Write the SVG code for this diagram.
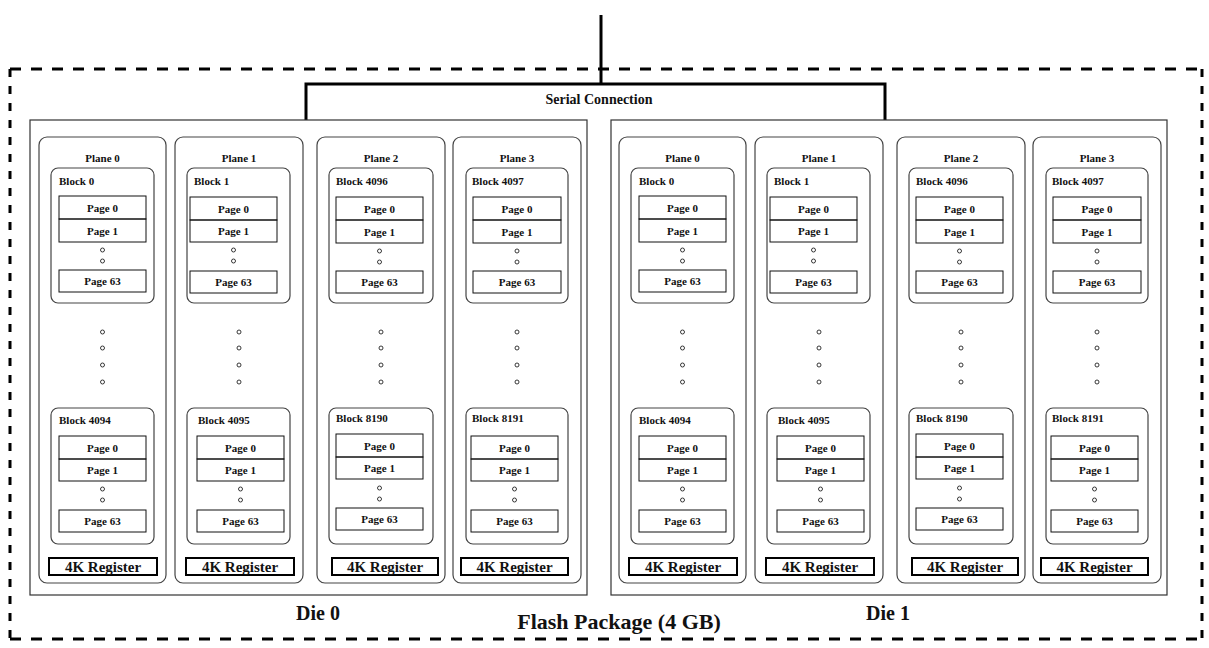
<svg xmlns="http://www.w3.org/2000/svg" width="1209" height="648" viewBox="0 0 1209 648">
<style>
.bg{fill:#fff}
.die{fill:none;stroke:#333;stroke-width:1.2}
.plane{fill:none;stroke:#444;stroke-width:1.2}
.block{fill:none;stroke:#444;stroke-width:1.2}
.page{fill:none;stroke:#111;stroke-width:1}
.reg{fill:none;stroke:#000;stroke-width:2}
.dot{fill:none;stroke:#222;stroke-width:0.9}
.conn{fill:none;stroke:#000;stroke-width:3}
.dash{fill:none;stroke:#000;stroke-width:3}
text{font-family:"Liberation Serif","Times New Roman",serif;font-weight:bold;fill:#111}
.l{font-size:11px}
.c{text-anchor:middle}
.rt{font-size:15px;text-anchor:middle}
.st{font-size:14px;text-anchor:middle}
.dt{font-size:20px;text-anchor:middle}
.ft{font-size:22px;text-anchor:middle}
</style>
<rect class="bg" x="0" y="0" width="1209" height="648"/>

<g id="package-border">
<line class="dash" x1="10" y1="69" x2="1202" y2="69" stroke-dasharray="11 10"/>
<line class="dash" x1="10" y1="639" x2="1202" y2="639" stroke-dasharray="11 10"/>
<line class="dash" x1="10" y1="69" x2="10" y2="639" stroke-dasharray="8 9"/>
<line class="dash" x1="1202" y1="69" x2="1202" y2="639" stroke-dasharray="8 9"/>
</g>

<g id="connectors">
<line class="conn" x1="601" y1="15" x2="601" y2="84"/>
<path class="conn" d="M306,120 V84 H885 V120"/>
</g>
<text id="serial-label" class="st" x="599" y="104">Serial Connection</text>

<g id="die0">
<rect class="die" x="30" y="120" width="557" height="475"/>

<g id="d0-plane0">
<rect class="plane" x="39" y="137" width="127" height="446" rx="8"/>
<text class="l c" x="102.5" y="162">Plane 0</text>
<g id="d0-block0">
<rect class="block" x="51" y="168" width="103" height="135" rx="7"/>
<text class="l" x="59" y="185">Block 0</text>
<rect class="page" x="59" y="196" width="87" height="23"/><text class="l c" x="102.5" y="212">Page 0</text>
<rect class="page" x="59" y="219" width="87" height="23"/><text class="l c" x="102.5" y="235">Page 1</text>
<circle class="dot" cx="102.5" cy="250" r="2"/><circle class="dot" cx="102.5" cy="261" r="2"/>
<rect class="page" x="59" y="270" width="87" height="22"/><text class="l c" x="102.5" y="285">Page 63</text>
</g>
<circle class="dot" cx="102.5" cy="332" r="2"/><circle class="dot" cx="102.5" cy="348" r="2"/><circle class="dot" cx="102.5" cy="365" r="2"/><circle class="dot" cx="102.5" cy="382" r="2"/>
<g id="d0-block4094">
<rect class="block" x="51" y="408" width="103" height="136" rx="7"/>
<text class="l" x="59" y="424">Block 4094</text>
<rect class="page" x="59" y="436" width="87" height="23"/><text class="l c" x="102.5" y="452">Page 0</text>
<rect class="page" x="59" y="459" width="87" height="22"/><text class="l c" x="102.5" y="474">Page 1</text>
<circle class="dot" cx="102.5" cy="489" r="2"/><circle class="dot" cx="102.5" cy="500" r="2"/>
<rect class="page" x="59" y="510" width="87" height="22"/><text class="l c" x="102.5" y="525">Page 63</text>
</g>
<g id="d0-reg0"><rect class="reg" x="49" y="558" width="108" height="17"/><text class="rt" x="103" y="572">4K Register</text></g>
</g>

<g id="d0-plane1">
<rect class="plane" x="175" y="137" width="128" height="446" rx="8"/>
<text class="l c" x="239" y="162">Plane 1</text>
<g id="d0-block1">
<rect class="block" x="187" y="168" width="103" height="135" rx="7"/>
<text class="l" x="194" y="185">Block 1</text>
<rect class="page" x="190" y="197" width="87" height="23"/><text class="l c" x="233.5" y="213">Page 0</text>
<rect class="page" x="190" y="220" width="87" height="22"/><text class="l c" x="233.5" y="235">Page 1</text>
<circle class="dot" cx="233.5" cy="250" r="2"/><circle class="dot" cx="233.5" cy="261" r="2"/>
<rect class="page" x="190" y="271" width="87" height="22"/><text class="l c" x="233.5" y="286">Page 63</text>
</g>
<circle class="dot" cx="239" cy="332" r="2"/><circle class="dot" cx="239" cy="348" r="2"/><circle class="dot" cx="239" cy="365" r="2"/><circle class="dot" cx="239" cy="382" r="2"/>
<g id="d0-block4095">
<rect class="block" x="187" y="408" width="103" height="136" rx="7"/>
<text class="l" x="198" y="424">Block 4095</text>
<rect class="page" x="197" y="436" width="87" height="23"/><text class="l c" x="240.5" y="452">Page 0</text>
<rect class="page" x="197" y="459" width="87" height="22"/><text class="l c" x="240.5" y="474">Page 1</text>
<circle class="dot" cx="240.5" cy="489" r="2"/><circle class="dot" cx="240.5" cy="500" r="2"/>
<rect class="page" x="197" y="510" width="87" height="22"/><text class="l c" x="240.5" y="525">Page 63</text>
</g>
<g id="d0-reg1"><rect class="reg" x="186" y="558" width="108" height="17"/><text class="rt" x="240" y="572">4K Register</text></g>
</g>

<g id="d0-plane2">
<rect class="plane" x="317" y="137" width="128" height="446" rx="8"/>
<text class="l c" x="381" y="162">Plane 2</text>
<g id="d0-block4096">
<rect class="block" x="329" y="168" width="104" height="135" rx="7"/>
<text class="l" x="336" y="185">Block 4096</text>
<rect class="page" x="336" y="197" width="87" height="23"/><text class="l c" x="379.5" y="213">Page 0</text>
<rect class="page" x="336" y="220" width="87" height="23"/><text class="l c" x="379.5" y="236">Page 1</text>
<circle class="dot" cx="379.5" cy="251" r="2"/><circle class="dot" cx="379.5" cy="262" r="2"/>
<rect class="page" x="336" y="271" width="87" height="22"/><text class="l c" x="379.5" y="286">Page 63</text>
</g>
<circle class="dot" cx="381" cy="332" r="2"/><circle class="dot" cx="381" cy="348" r="2"/><circle class="dot" cx="381" cy="365" r="2"/><circle class="dot" cx="381" cy="382" r="2"/>
<g id="d0-block8190">
<rect class="block" x="329" y="408" width="104" height="136" rx="7"/>
<text class="l" x="336" y="422">Block 8190</text>
<rect class="page" x="336" y="434" width="87" height="23"/><text class="l c" x="379.5" y="450">Page 0</text>
<rect class="page" x="336" y="457" width="87" height="22"/><text class="l c" x="379.5" y="472">Page 1</text>
<circle class="dot" cx="379.5" cy="488" r="2"/><circle class="dot" cx="379.5" cy="499" r="2"/>
<rect class="page" x="336" y="508" width="87" height="22"/><text class="l c" x="379.5" y="523">Page 63</text>
</g>
<g id="d0-reg2"><rect class="reg" x="332" y="558" width="106" height="17"/><text class="rt" x="385" y="572">4K Register</text></g>
</g>

<g id="d0-plane3">
<rect class="plane" x="453" y="137" width="128" height="446" rx="8"/>
<text class="l c" x="517" y="162">Plane 3</text>
<g id="d0-block4097">
<rect class="block" x="466" y="168" width="102" height="135" rx="7"/>
<text class="l" x="472" y="185">Block 4097</text>
<rect class="page" x="473" y="197" width="88" height="23"/><text class="l c" x="517" y="213">Page 0</text>
<rect class="page" x="473" y="220" width="88" height="23"/><text class="l c" x="517" y="236">Page 1</text>
<circle class="dot" cx="517" cy="251" r="2"/><circle class="dot" cx="517" cy="262" r="2"/>
<rect class="page" x="473" y="271" width="88" height="22"/><text class="l c" x="517" y="286">Page 63</text>
</g>
<circle class="dot" cx="517" cy="332" r="2"/><circle class="dot" cx="517" cy="348" r="2"/><circle class="dot" cx="517" cy="365" r="2"/><circle class="dot" cx="517" cy="382" r="2" stroke-width="1.5"/>
<g id="d0-block8191">
<rect class="block" x="466" y="408" width="102" height="136" rx="7"/>
<text class="l" x="472" y="422">Block 8191</text>
<rect class="page" x="471" y="436" width="87" height="23"/><text class="l c" x="514.5" y="452">Page 0</text>
<rect class="page" x="471" y="459" width="87" height="22"/><text class="l c" x="514.5" y="474">Page 1</text>
<circle class="dot" cx="514.5" cy="489" r="2"/><circle class="dot" cx="514.5" cy="500" r="2"/>
<rect class="page" x="471" y="510" width="87" height="22"/><text class="l c" x="514.5" y="525">Page 63</text>
</g>
<g id="d0-reg3"><rect class="reg" x="461" y="558" width="107" height="17"/><text class="rt" x="514.5" y="572">4K Register</text></g>
</g>
</g>
<text id="die0-label" class="dt" x="318" y="620">Die 0</text>

<g id="die1" transform="translate(580,0)">
<rect class="die" x="31" y="120" width="556" height="475"/>

<g id="d1-plane0">
<rect class="plane" x="39" y="137" width="127" height="446" rx="8"/>
<text class="l c" x="102.5" y="162">Plane 0</text>
<g id="d1-block0">
<rect class="block" x="51" y="168" width="103" height="135" rx="7"/>
<text class="l" x="59" y="185">Block 0</text>
<rect class="page" x="59" y="196" width="87" height="23"/><text class="l c" x="102.5" y="212">Page 0</text>
<rect class="page" x="59" y="219" width="87" height="23"/><text class="l c" x="102.5" y="235">Page 1</text>
<circle class="dot" cx="102.5" cy="250" r="2"/><circle class="dot" cx="102.5" cy="261" r="2"/>
<rect class="page" x="59" y="270" width="87" height="22"/><text class="l c" x="102.5" y="285">Page 63</text>
</g>
<circle class="dot" cx="102.5" cy="332" r="2"/><circle class="dot" cx="102.5" cy="348" r="2"/><circle class="dot" cx="102.5" cy="365" r="2"/><circle class="dot" cx="102.5" cy="382" r="2"/>
<g id="d1-block4094">
<rect class="block" x="51" y="408" width="103" height="136" rx="7"/>
<text class="l" x="59" y="424">Block 4094</text>
<rect class="page" x="59" y="436" width="87" height="23"/><text class="l c" x="102.5" y="452">Page 0</text>
<rect class="page" x="59" y="459" width="87" height="22"/><text class="l c" x="102.5" y="474">Page 1</text>
<circle class="dot" cx="102.5" cy="489" r="2"/><circle class="dot" cx="102.5" cy="500" r="2"/>
<rect class="page" x="59" y="510" width="87" height="22"/><text class="l c" x="102.5" y="525">Page 63</text>
</g>
<g id="d1-reg0"><rect class="reg" x="49" y="558" width="108" height="17"/><text class="rt" x="103" y="572">4K Register</text></g>
</g>

<g id="d1-plane1">
<rect class="plane" x="175" y="137" width="128" height="446" rx="8"/>
<text class="l c" x="239" y="162">Plane 1</text>
<g id="d1-block1">
<rect class="block" x="187" y="168" width="103" height="135" rx="7"/>
<text class="l" x="194" y="185">Block 1</text>
<rect class="page" x="190" y="197" width="87" height="23"/><text class="l c" x="233.5" y="213">Page 0</text>
<rect class="page" x="190" y="220" width="87" height="22"/><text class="l c" x="233.5" y="235">Page 1</text>
<circle class="dot" cx="233.5" cy="250" r="2"/><circle class="dot" cx="233.5" cy="261" r="2"/>
<rect class="page" x="190" y="271" width="87" height="22"/><text class="l c" x="233.5" y="286">Page 63</text>
</g>
<circle class="dot" cx="239" cy="332" r="2"/><circle class="dot" cx="239" cy="348" r="2"/><circle class="dot" cx="239" cy="365" r="2"/><circle class="dot" cx="239" cy="382" r="2"/>
<g id="d1-block4095">
<rect class="block" x="187" y="408" width="103" height="136" rx="7"/>
<text class="l" x="198" y="424">Block 4095</text>
<rect class="page" x="197" y="436" width="87" height="23"/><text class="l c" x="240.5" y="452">Page 0</text>
<rect class="page" x="197" y="459" width="87" height="22"/><text class="l c" x="240.5" y="474">Page 1</text>
<circle class="dot" cx="240.5" cy="489" r="2"/><circle class="dot" cx="240.5" cy="500" r="2"/>
<rect class="page" x="197" y="510" width="87" height="22"/><text class="l c" x="240.5" y="525">Page 63</text>
</g>
<g id="d1-reg1"><rect class="reg" x="186" y="558" width="108" height="17"/><text class="rt" x="240" y="572">4K Register</text></g>
</g>

<g id="d1-plane2">
<rect class="plane" x="317" y="137" width="128" height="446" rx="8"/>
<text class="l c" x="381" y="162">Plane 2</text>
<g id="d1-block4096">
<rect class="block" x="329" y="168" width="104" height="135" rx="7"/>
<text class="l" x="336" y="185">Block 4096</text>
<rect class="page" x="336" y="197" width="87" height="23"/><text class="l c" x="379.5" y="213">Page 0</text>
<rect class="page" x="336" y="220" width="87" height="23"/><text class="l c" x="379.5" y="236">Page 1</text>
<circle class="dot" cx="379.5" cy="251" r="2"/><circle class="dot" cx="379.5" cy="262" r="2"/>
<rect class="page" x="336" y="271" width="87" height="22"/><text class="l c" x="379.5" y="286">Page 63</text>
</g>
<circle class="dot" cx="381" cy="332" r="2"/><circle class="dot" cx="381" cy="348" r="2"/><circle class="dot" cx="381" cy="365" r="2"/><circle class="dot" cx="381" cy="382" r="2"/>
<g id="d1-block8190">
<rect class="block" x="329" y="408" width="104" height="136" rx="7"/>
<text class="l" x="336" y="422">Block 8190</text>
<rect class="page" x="336" y="434" width="87" height="23"/><text class="l c" x="379.5" y="450">Page 0</text>
<rect class="page" x="336" y="457" width="87" height="22"/><text class="l c" x="379.5" y="472">Page 1</text>
<circle class="dot" cx="379.5" cy="488" r="2"/><circle class="dot" cx="379.5" cy="499" r="2"/>
<rect class="page" x="336" y="508" width="87" height="22"/><text class="l c" x="379.5" y="523">Page 63</text>
</g>
<g id="d1-reg2"><rect class="reg" x="332" y="558" width="106" height="17"/><text class="rt" x="385" y="572">4K Register</text></g>
</g>

<g id="d1-plane3">
<rect class="plane" x="453" y="137" width="128" height="446" rx="8"/>
<text class="l c" x="517" y="162">Plane 3</text>
<g id="d1-block4097">
<rect class="block" x="466" y="168" width="102" height="135" rx="7"/>
<text class="l" x="472" y="185">Block 4097</text>
<rect class="page" x="473" y="197" width="88" height="23"/><text class="l c" x="517" y="213">Page 0</text>
<rect class="page" x="473" y="220" width="88" height="23"/><text class="l c" x="517" y="236">Page 1</text>
<circle class="dot" cx="517" cy="251" r="2"/><circle class="dot" cx="517" cy="262" r="2"/>
<rect class="page" x="473" y="271" width="88" height="22"/><text class="l c" x="517" y="286">Page 63</text>
</g>
<circle class="dot" cx="517" cy="332" r="2"/><circle class="dot" cx="517" cy="348" r="2"/><circle class="dot" cx="517" cy="365" r="2"/><circle class="dot" cx="517" cy="382" r="2" stroke-width="1.5"/>
<g id="d1-block8191">
<rect class="block" x="466" y="408" width="102" height="136" rx="7"/>
<text class="l" x="472" y="422">Block 8191</text>
<rect class="page" x="471" y="436" width="87" height="23"/><text class="l c" x="514.5" y="452">Page 0</text>
<rect class="page" x="471" y="459" width="87" height="22"/><text class="l c" x="514.5" y="474">Page 1</text>
<circle class="dot" cx="514.5" cy="489" r="2"/><circle class="dot" cx="514.5" cy="500" r="2"/>
<rect class="page" x="471" y="510" width="87" height="22"/><text class="l c" x="514.5" y="525">Page 63</text>
</g>
<g id="d1-reg3"><rect class="reg" x="461" y="558" width="107" height="17"/><text class="rt" x="514.5" y="572">4K Register</text></g>
</g>
</g>
<text id="die1-label" class="dt" x="888" y="620">Die 1</text>
<text id="package-label" class="ft" x="619" y="629">Flash Package (4 GB)</text>
</svg>
